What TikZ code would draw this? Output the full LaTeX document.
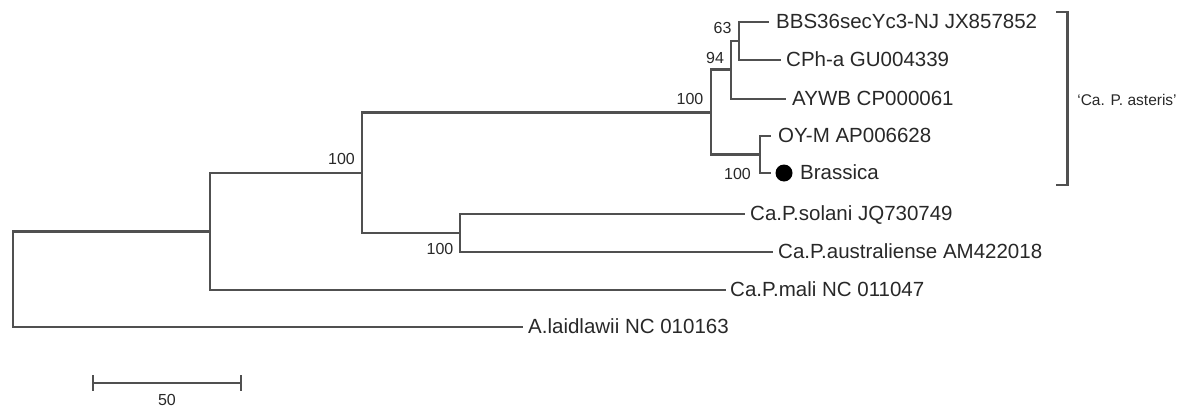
\documentclass[tikz,border=0pt]{standalone}
\usepackage{fontspec}
\setmainfont{Liberation Sans}
\definecolor{branch}{RGB}{80,80,80}
\definecolor{txt}{RGB}{40,40,40}
\tikzset{
  br/.style={draw=branch, line width=2.2pt, line cap=rect},
  lab/.style={anchor=west, inner xsep=0pt, inner ysep=0pt, text=txt,
    font=\fontsize{20.5}{22}\selectfont, text height=12pt, text depth=0pt},
  boot/.style={inner sep=0pt, text=txt, font=\fontsize{16}{18}\selectfont,
    text height=11.5pt, text depth=0pt},
}
\begin{document}
\begin{tikzpicture}[x=1pt,y=-1pt]
\useasboundingbox (0,0) rectangle (1183,407);
% internal nodes
\coordinate (root) at (13,279.5);
\coordinate (nA) at (210,231.5);
\coordinate (nB) at (362,173);
\coordinate (nC) at (711,112.5);
\coordinate (nD) at (460,233);
\coordinate (nE) at (731,69.5);
\coordinate (nF) at (760,154.5);
\coordinate (nG) at (739,41);
% leaf tips
\coordinate (tBBS) at (768,22);
\coordinate (tCPh) at (780,60);
\coordinate (tAYWB) at (785,99);
\coordinate (tOY) at (770,136);
\coordinate (tBra) at (770,173);
\coordinate (tSol) at (744,214);
\coordinate (tAus) at (772,252);
\coordinate (tMal) at (725,290);
\coordinate (tLai) at (522,327);
% labels
\node[lab] (lBBS) at (776,22) {BBS36secYc3-NJ JX857852};
\node[lab] (lCPh) at (786,60) {CPh-a GU004339};
\node[lab] (lAYWB) at (792,99) {AYWB CP000061};
\node[lab] (lOY) at (778,136) {OY-M AP006628};
\node[circle, fill=black, inner sep=0pt, minimum size=17pt] (dot) at (784,173) {};
\node[lab] (lBra) at (800,173) {Brassica};
\node[lab] (lSol) at (750,214) {Ca.P.solani JQ730749};
\node[lab] (lAus) at (778,252) {Ca.P.australiense AM422018};
\node[lab] (lMal) at (730,290) {Ca.P.mali NC 011047};
\node[lab] (lLai) at (528,327) {A.laidlawii NC 010163};
% branches
\draw[br] (root) |- (nA);
\draw[br] (root) |- (tLai);
\draw[br] (nA) |- (nB);
\draw[br] (nA) |- (tMal);
\draw[br] (nB) |- (nC);
\draw[br] (nB) |- (nD);
\draw[br] (nD) |- (tSol);
\draw[br] (nD) |- (tAus);
\draw[br] (nC) |- (nE);
\draw[br] (nC) |- (nF);
\draw[br] (nE) |- (nG);
\draw[br] (nE) |- (tAYWB);
\draw[br] (nG) |- (tBBS);
\draw[br] (nG) |- (tCPh);
\draw[br] (nF) |- (tOY);
\draw[br] (nF) |- (tBra);
% bootstrap values
\node[boot] (b63) at (722.5,27.5) {63};
\node[boot] (b94) at (715,58) {94};
\node[boot] (b100c) at (690,99) {100};
\node[boot] (b100f) at (737.5,174) {100};
\node[boot] (b100b) at (341.5,158.5) {100};
\node[boot] (b100d) at (440,249) {100};
% bracket
\coordinate (brT) at (1057,12);
\coordinate (brB) at (1057,185);
\coordinate (brTR) at (1067.5,12);
\coordinate (brBR) at (1067.5,185);
\draw[br] (brT) -- (brTR) -- (brBR) -- (brB);
\node[boot, font=\fontsize{15.5}{18}\selectfont] (clade) at (1127,100) {`Ca. P. asteris'};
% scale bar
\coordinate (s1) at (93,383);
\coordinate (s2) at (241,383);
\draw[br, line width=1.8pt] (s1) -- (s2);
\draw[br, line width=1.8pt] ([yshift=-7pt]s1) -- ([yshift=7pt]s1);
\draw[br, line width=1.8pt] ([yshift=-7pt]s2) -- ([yshift=7pt]s2);
\node[boot] (sl) at (167,400) {50};
\end{tikzpicture}
\end{document}
